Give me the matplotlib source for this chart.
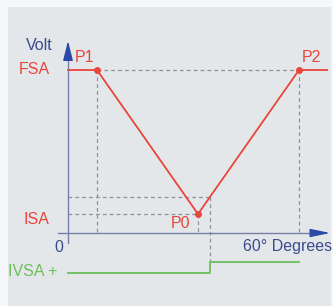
import matplotlib.pyplot as plt
from matplotlib.patches import Rectangle

plt.rcParams['font.family'] = ['Liberation Sans', 'DejaVu Sans']

# chart values (arbitrary units: x along the angle axis, y in volts)
fsa = 163
isa = 19
cross_level = 36
p1_x = 29
p0_x = 130
p2_x = 231
cross_x = 142
line_end_x = 259

curve_x = [0, p1_x, p0_x, p2_x, line_end_x]
curve_y = [fsa, fsa, isa, fsa, fsa]

ivsa_low = -40
ivsa_high = -29
ivsa_x = [0, cross_x, cross_x, p2_x]
ivsa_y = [ivsa_low, ivsa_low, ivsa_high, ivsa_high]

red = '#e8453c'
blue = '#3b4b8c'
green = '#6cbf5c'
dash = '#8c9099'
axis_col = '#7480aa'

fig = plt.figure(figsize=(3.33, 3.06), dpi=100)
fig.patch.set_facecolor('#f6f7f8')
ax = fig.add_axes([0, 0, 1, 1])
ax.set_xlim(-68, 265)
ax.set_ylim(-73, 233)
ax.axis('off')

ax.add_patch(Rectangle((-60, -73), 323, 299, facecolor='#e4e7ea', edgecolor='none', zorder=0))

# guide lines
dkw = dict(color=dash, lw=0.9, ls=(0, (3, 2.5)), zorder=1)
ax.plot([p1_x, p2_x], [fsa, fsa], **dkw)
ax.plot([p1_x, p1_x], [fsa, 0], **dkw)
ax.plot([p2_x, p2_x], [fsa, 0], **dkw)
ax.plot([0, p0_x], [isa, isa], **dkw)
ax.plot([p0_x, p0_x], [isa, 0], **dkw)
ax.plot([0, cross_x], [cross_level, cross_level], **dkw)
ax.plot([cross_x, cross_x], [cross_level, ivsa_high], **dkw)

# axes with arrows
ax.plot([0, 0], [-10, 180], color=axis_col, lw=1.0, zorder=2)
ax.plot([-10, 250], [0, 0], color=axis_col, lw=1.0, zorder=2)
ax.annotate('', xy=(0, 195), xytext=(0, 175),
            arrowprops=dict(arrowstyle='-|>,head_length=1.2,head_width=0.3', color='#2a4aa8', lw=1), zorder=3)
ax.annotate('', xy=(265, 0), xytext=(245, 0),
            arrowprops=dict(arrowstyle='-|>,head_length=1.2,head_width=0.25', color='#2a4aa8', lw=1), zorder=3)

# voltage curve
ax.plot(curve_x, curve_y, color=red, lw=1.3, zorder=4)
ax.plot([p1_x, p0_x, p2_x], [fsa, isa, fsa], 'o', color=red, ms=4, zorder=5)

# IVSA trace
ax.plot(ivsa_x, ivsa_y, color=green, lw=1.3, zorder=4)

fs = 11.5
ax.text(-29, 188, 'Volt', color=blue, fontsize=fs, ha='center', va='center')
ax.text(-34, fsa, 'FSA', color=red, fontsize=fs, ha='center', va='center')
ax.text(-32, 14, 'ISA', color=red, fontsize=fs, ha='center', va='center')
ax.text(16, 176, 'P1', color=red, fontsize=fs, ha='center', va='center')
ax.text(243, 176, 'P2', color=red, fontsize=fs, ha='center', va='center')
ax.text(112, 10, 'P0', color=red, fontsize=fs, ha='center', va='center')
ax.text(-9, -14, '0', color=blue, fontsize=fs, ha='center', va='center')
ax.text(264, -14, '60° Degrees', color=blue, fontsize=fs, ha='right', va='center')
ax.text(-35, -39, 'IVSA +', color=green, fontsize=fs, ha='center', va='center')

fig.savefig('out.png', dpi=100)
